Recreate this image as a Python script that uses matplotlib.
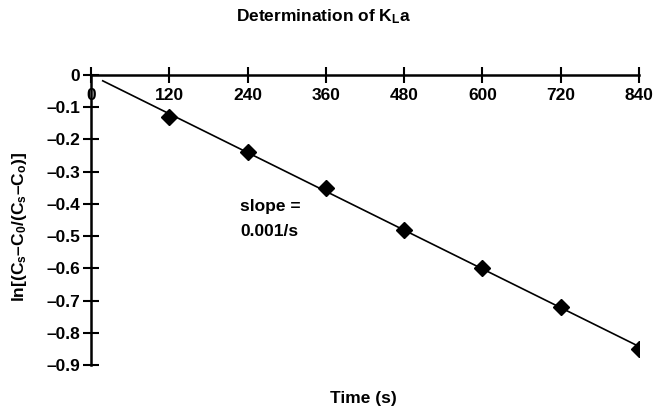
import numpy as np
import matplotlib
matplotlib.use('Agg')
import matplotlib.pyplot as plt

# data
time_s = [120, 240, 360, 480, 600, 720, 840]
ln_ratio = [-0.13, -0.24, -0.35, -0.48, -0.60, -0.72, -0.85]
x_ticks = [0, 120, 240, 360, 480, 600, 720, 840]
y_ticks = [0, -0.1, -0.2, -0.3, -0.4, -0.5, -0.6, -0.7, -0.8, -0.9]
fit_range = [18, 840]

plt.rcParams['font.family'] = ['Liberation Sans', 'DejaVu Sans']
plt.rcParams['font.weight'] = 'bold'
plt.rcParams['mathtext.fontset'] = 'custom'
plt.rcParams['mathtext.rm'] = 'Liberation Sans:bold'
plt.rcParams['mathtext.bf'] = 'Liberation Sans:bold'
plt.rcParams['mathtext.default'] = 'bf'

FS = 12.5

fig = plt.figure(figsize=(6.58, 4.12), dpi=100)
ax = fig.add_axes([91 / 658, 1 - 365 / 412, 548 / 658, 290 / 412])

# linear fit
slope, intercept = np.polyfit(time_s, ln_ratio, 1)
xf = np.array(fit_range)
ax.plot(xf, slope * xf + intercept, color='black', lw=1.2)
ax.plot(time_s, ln_ratio, linestyle='none', marker='D', color='black', markersize=8)

ax.set_xlim(0, 840)
ax.set_ylim(-0.9, 0)
ax.set_xticks(x_ticks)
ax.set_yticks(y_ticks)
ax.set_yticklabels(['0'] + [f'\u2013{abs(v):.1f}' for v in y_ticks[1:]])

for s in ['bottom', 'right']:
    ax.spines[s].set_visible(False)
ax.spines['top'].set_linewidth(1.8)
ax.spines['left'].set_linewidth(1.8)

ax.xaxis.set_ticks_position('top')
ax.tick_params(axis='x', direction='inout', length=12, width=1.5, labeltop=True,
               labelbottom=False, pad=-26, labelsize=FS)
ax.tick_params(axis='y', direction='inout', length=12, width=1.5, labelsize=FS, pad=2)
for lbl in ax.get_xticklabels() + ax.get_yticklabels():
    lbl.set_fontweight('bold')

fig.text(240 / 658, 1 - 207 / 412, 'slope =', fontsize=FS, fontweight='bold',
         va='center', ha='left')
fig.text(240 / 658, 1 - 232 / 412, '0.001/s', fontsize=FS, fontweight='bold',
         va='center', ha='left')

fig.text(363 / 658, 1 - 399 / 412, 'Time (s)', fontsize=FS, fontweight='bold',
         ha='center', va='center')
fig.text(20 / 658, 1 - 227 / 412,
         'ln[(C$_{s}$\u2013C$_{0}$/(C$_{s}$\u2013C$_{o}$)]',
         rotation=90, fontsize=FS, fontweight='bold', ha='center', va='center')
fig.text(324 / 658, 1 - 17 / 412, 'Determination of K$_{L}$a',
         fontsize=FS, fontweight='bold', ha='center', va='center')

fig.savefig('out.png', dpi=100)
